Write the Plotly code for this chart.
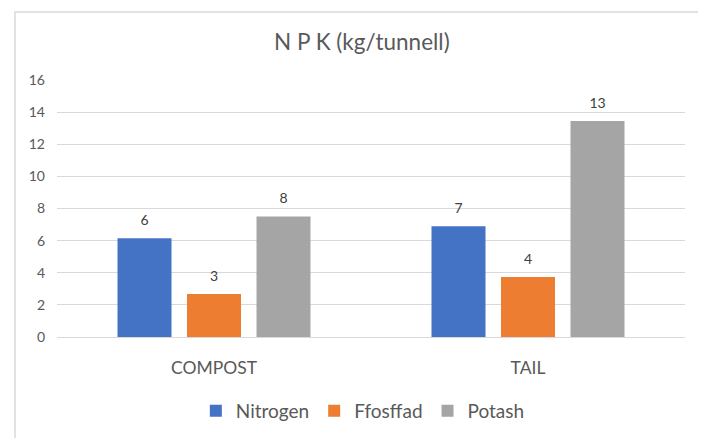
import plotly.graph_objects as go

categories = ["COMPOST", "TAIL"]
nitrogen = [6.15, 6.9]
ffosffad = [2.68, 3.74]
potash = [7.5, 13.45]
series_names = ["Nitrogen", "Ffosffad", "Potash"]
colors = ["#4472C4", "#ED7D31", "#A5A5A5"]
y_ticks = [0, 2, 4, 6, 8, 10, 12, 14, 16]

FONT = "Lato, 'Open Sans', sans-serif"
LABEL_PAD = 0.45  # gap (in axis units) between bar top and its data label

fig = go.Figure()
for name, vals, col in zip(series_names, [nitrogen, ffosffad, potash], colors):
    fig.add_trace(go.Bar(
        x=categories, y=vals, name=name, offsetgroup=name,
        marker=dict(color=col, line=dict(width=0)),
        hovertemplate="%{x}: %{y}<extra>" + name + "</extra>",
    ))
    # transparent spacer bars carrying the data labels slightly above each bar
    fig.add_trace(go.Bar(
        x=categories, y=[LABEL_PAD] * len(vals), base=vals, offsetgroup=name,
        marker=dict(color="rgba(0,0,0,0)", line=dict(width=0)),
        text=[f"{v:.0f}" for v in vals], textposition="outside",
        textfont=dict(size=14, color="#404040", family=FONT),
        cliponaxis=False, showlegend=False, hoverinfo="skip",
    ))

fig.update_layout(
    width=698, height=430,
    margin=dict(l=49, r=21, t=72, b=101, autoexpand=False),
    paper_bgcolor="white", plot_bgcolor="white",
    barmode="group", bargap=0.336, bargroupgap=0.223,
    title=dict(text="N P K (kg/tunnell)", x=0.507, xanchor="center", y=0.921, yanchor="middle",
               font=dict(size=22.5, color="#595959", family=FONT)),
    legend=dict(orientation="h", x=0.487, xanchor="center", y=-0.288, yanchor="middle",
                font=dict(size=19, color="#595959", family=FONT), itemwidth=30,
                traceorder="normal"),
    xaxis=dict(showgrid=False, showline=False, ticks="", ticklabelstandoff=18,
               tickfont=dict(size=17.5, color="#595959", family=FONT)),
    yaxis=dict(range=[0, 16], tickvals=y_ticks, showgrid=True, gridcolor="#D9D9D9", gridwidth=1,
               zeroline=True, zerolinecolor="#D9D9D9", zerolinewidth=1, showline=False,
               ticklabelstandoff=11,
               tickfont=dict(size=14, color="#595959", family=FONT)),
    shapes=[dict(type="rect", xref="paper", yref="paper",
                 x0=-0.0669, x1=1.027, y0=-0.45, y1=1.2646,
                 line=dict(color="#D9D9D9", width=1.5), fillcolor="rgba(0,0,0,0)", layer="below")],
)

fig.write_html("out.html")
